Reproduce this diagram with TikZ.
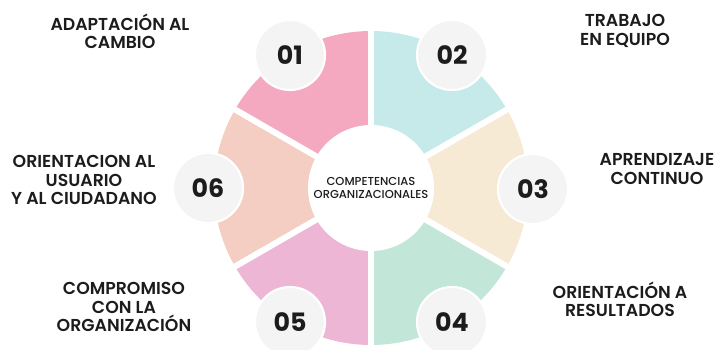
\documentclass[tikz,border=0pt]{standalone}
\usepackage{fontspec}
\setmainfont{Poppins}
\newfontfamily\skillfont{Poppins SemiBold}
\newfontfamily\corefont{Poppins Medium}
\definecolor{Ink}{HTML}{1C1C1C}
\definecolor{SegOne}{HTML}{F4A9C1}
\definecolor{SegTwo}{HTML}{C6E9EA}
\definecolor{SegThree}{HTML}{F6EAD5}
\definecolor{SegFour}{HTML}{C2E6D8}
\definecolor{SegFive}{HTML}{EEB6D5}
\definecolor{SegSix}{HTML}{F4CEC2}
\definecolor{Badge}{HTML}{F4F4F4}
\tikzset{
  every node/.style={text=Ink},
  badge/.style={circle, fill=Badge, draw=white, line width=1.5pt,
    minimum size=1.75cm, inner sep=0pt,
    font=\bfseries\fontsize{18}{18}\selectfont},
  skill/.style={align=center, inner sep=0pt,
    font=\skillfont\fontsize{12.3}{13}\selectfont},
}

\begin{document}
\begin{tikzpicture}[x=0.025cm,y=0.025cm]
  \useasboundingbox (-371,-161) rectangle (349,188);

  % Six coloured sectors of the wheel.
  \foreach \a/\c in {90/SegOne, 30/SegTwo, -30/SegThree,
                     -90/SegFour, 210/SegFive, 150/SegSix}
    \fill[\c] (0,0) -- (\a:157)
      arc[start angle=\a, end angle=\a+60, radius=157] -- cycle;

  % White gaps between the sectors and the hub.
  \foreach \a in {30,90,...,330}
    \draw[white, line width=4.3pt] (0,0) -- (\a:162);
  \fill[white] (0,0) circle[radius=63];
  \node[font=\corefont\fontsize{8.2}{9.5}\selectfont, align=center] (core)
    at (0,0) {COMPETENCIAS\\ORGANIZACIONALES};

  % Number badges on the rim.
  \node[badge] (b01) at (-81,133) {01};
  \node[badge] (b02) at (81,133) {02};
  \node[badge] (b03) at (162,-1) {03};
  \node[badge] (b04) at (81,-134) {04};
  \node[badge] (b05) at (-81,-134) {05};
  \node[badge] (b06) at (-163,0) {06};

  % Competence names.
  \node[skill] (s01) at (-251,157) {ADAPTACIÓN AL\\CAMBIO};
  \node[skill] (s02) at (254,157) {TRABAJO\\EN EQUIPO};
  \node[skill] (s03) at (286,19) {APRENDIZAJE\\CONTINUO};
  \node[skill] (s04) at (249,-111) {ORIENTACIÓN A\\RESULTADOS};
  \node[skill] (s05) at (-247,-119) {COMPROMISO\\CON LA\\ORGANIZACIÓN};
  \node[skill] (s06) at (-287,8) {ORIENTACION AL\\USUARIO\\Y AL CIUDADANO};
\end{tikzpicture}
\end{document}
